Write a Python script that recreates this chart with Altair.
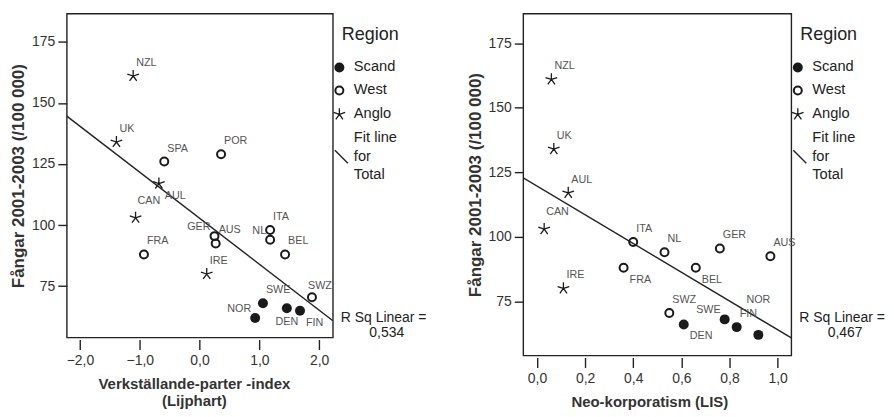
import altair as alt
import pandas as pd

# ---- data ----
countries = ["NZL", "UK", "SPA", "POR", "AUL", "CAN", "FRA", "GER", "AUS", "IRE",
             "ITA", "NL", "BEL", "SWZ", "SWE", "NOR", "DEN", "FIN"]
regions = ["Anglo", "Anglo", "West", "West", "Anglo", "Anglo", "West", "West", "West", "Anglo",
           "West", "West", "West", "West", "Scand", "Scand", "Scand", "Scand"]
prisoners = [161, 134, 126, 129, 117, 103, 88, 95.5, 92.5, 80,
             98, 94, 88, 70.5, 68, 62, 66, 65]
lijphart = [-1.11, -1.39, -0.59, 0.36, -0.68, -1.07, -0.93, 0.25, 0.27, 0.12,
            1.18, 1.18, 1.43, 1.88, 1.06, 0.93, 1.46, 1.68]
lis = [0.06, 0.07, None, None, 0.13, 0.03, 0.36, 0.76, 0.97, 0.11,
       0.40, 0.53, 0.66, 0.55, 0.78, 0.92, 0.61, 0.83]
r2_left = "0,534"
r2_right = "0,467"

# label placement (style) per country
place_left = ["ne", "ne", "ne", "ne", "se", "ne2", "ne", "nw", "ne", "ne",
              "ne", "nw", "ne", "nne", "ne", "nw", "s", "se"]
place_right = ["ne", "ne", "ne", "ne", "ne", "ne2", "se", "ne", "ne", "ne",
               "ne", "ne", "se", "ne", "nw", "nn", "se", "ne"]

PLACE = {
    "ne": dict(align="left", baseline="bottom", dx=3, dy=-8),
    "ne2": dict(align="left", baseline="bottom", dx=2, dy=-12),
    "nne": dict(align="left", baseline="bottom", dx=-4, dy=-6),
    "nw": dict(align="right", baseline="bottom", dx=-4, dy=-4),
    "se": dict(align="left", baseline="top", dx=6, dy=6),
    "s": dict(align="center", baseline="top", dx=0, dy=8),
    "nn": dict(align="center", baseline="bottom", dx=0, dy=-30),
}

SANS = "Liberation Sans, Arial, sans-serif"
INK = "#1a1a1a"
STAR = "M0,0L0,-1M0,0L0.951,-0.309M0,0L0.588,0.809M0,0L-0.588,0.809M0,0L-0.951,-0.309"
YDOM = [54, 186.5]


def one():
    return alt.Chart(alt.Data(values=[{}]))


def txt(text, x, y, size=14.7, align="left"):
    return one().mark_text(text=text, align=align, baseline="middle", fontSize=size,
                           font=SANS, color="#222").encode(x=alt.value(x), y=alt.value(y))


def panel(xvals, xdom, xticks, W, H, xtitle, r2, place, title_shift):
    df = pd.DataFrame({"country": countries, "region": regions, "x": xvals,
                       "y": prisoners, "place": place}).dropna(subset=["x"])
    base = alt.Chart(df).encode(
        x=alt.X("x:Q", scale=alt.Scale(domain=xdom, nice=False, zero=False),
                axis=alt.Axis(values=xticks, title=xtitle,
                              labelExpr="replace(format(datum.value, '.1f'), '.', ',')",
                              offset=2, tickSize=10, labelPadding=4, titlePadding=9,
                              titleX=W / 2 + title_shift)),
        y=alt.Y("y:Q", scale=alt.Scale(domain=YDOM, nice=False, zero=False),
                axis=alt.Axis(values=[75, 100, 125, 150, 175], format="d",
                              title="Fångar 2001-2003 (/100 000)", tickSize=9,
                              labelPadding=3, titlePadding=4)),
    )
    layers = []
    layers.append(base.transform_regression("x", "y", extent=xdom)
                  .mark_line(color="#222", strokeWidth=1.4, clip=True))
    layers.append(base.transform_filter("datum.region == 'Scand'")
                  .mark_point(shape="circle", filled=True, size=100, color=INK, opacity=1))
    layers.append(base.transform_filter("datum.region == 'West'")
                  .mark_point(shape="circle", filled=False, size=64, strokeWidth=2, color=INK, opacity=1))
    layers.append(base.transform_filter("datum.region == 'Anglo'")
                  .mark_point(shape=STAR, filled=False, size=150, strokeWidth=1.3, color=INK, opacity=1))
    for key, st in PLACE.items():
        if key not in place:
            continue
        layers.append(base.transform_filter(f"datum.place == '{key}'")
                      .mark_text(font=SANS, fontSize=10.8, color="#555", **st)
                      .encode(text="country:N"))
    # manual legend
    layers += [
        txt("Region", W + 9, 21, size=18),
        one().mark_point(shape="circle", filled=True, size=100, color=INK, opacity=1)
        .encode(x=alt.value(W + 6.5), y=alt.value(54)),
        one().mark_point(shape="circle", filled=False, size=64, strokeWidth=2, color=INK, opacity=1)
        .encode(x=alt.value(W + 6.5), y=alt.value(77)),
        one().mark_point(shape=STAR, filled=False, size=150, strokeWidth=1.3, color=INK, opacity=1)
        .encode(x=alt.value(W + 6.5), y=alt.value(101)),
        txt("Scand", W + 21, 54),
        txt("West", W + 21, 77),
        txt("Anglo", W + 21, 101),
        txt("Fit line", W + 21, 125),
        txt("for", W + 21, 144),
        txt("Total", W + 21, 162),
        one().mark_rule(color="#222", strokeWidth=1.4)
        .encode(x=alt.value(W + 2), x2=alt.value(W + 15), y=alt.value(137), y2=alt.value(150)),
        txt("R Sq Linear =", W + 8, 305, size=14),
        txt(r2, W + 54, 320, size=14, align="center"),
    ]
    return alt.layer(*layers).properties(width=W, height=H)


left = panel(lijphart, [-2.22, 2.23], [-2, -1, 0, 1, 2], 267, 325,
             ["Verkställande-parter -index", "(Lijphart)"], r2_left, place_left, -6)
right = panel(lis, [-0.057, 1.057], [0, 0.2, 0.4, 0.6, 0.8, 1.0], 269, 343,
              "Neo-korporatism (LIS)", r2_right, place_right, -8)

chart = alt.hconcat(left, right, spacing=37).properties(
    padding={"left": 0, "top": 4, "right": 0, "bottom": 0},
    background="white",
).configure_view(stroke="#222", strokeWidth=1.4).configure_axis(
    grid=False, domain=False, tickColor="#222", tickWidth=1.4,
    labelFont=SANS, labelFontSize=14, labelColor="#333",
    titleFont=SANS, titleFontWeight="bold", titleColor="#333",
    titleLineHeight=17,
).configure_axisX(titleFontSize=15).configure_axisY(titleFontSize=17)

chart.save("out.html", embed_options={"renderer": "svg", "actions": False})
